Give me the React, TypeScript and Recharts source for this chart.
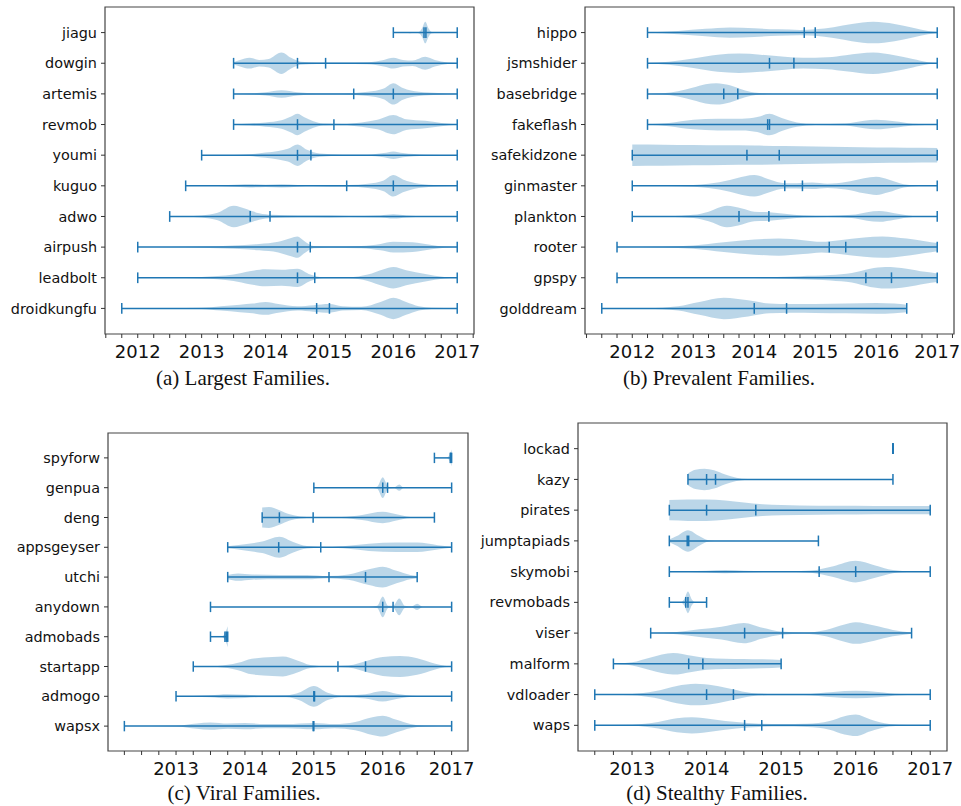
import { ComposedChart, Area, XAxis, YAxis, ReferenceLine, ReferenceArea } from 'recharts';

// [year, relative density] pairs, density 1 = widest point of that violin
type Profile = [number, number][];

const BLUE = '#1f77b4';
const HALF_WIDTH = 0.35; // violin half width in row units
const CAP = 0.175; // half height of the cap / mean / median ticks

// (a) Largest families
const largestNames = ['jiagu', 'dowgin', 'artemis', 'revmob', 'youmi', 'kuguo', 'adwo', 'airpush', 'leadbolt', 'droidkungfu'];
const largestMin = [2016.0, 2013.5, 2013.5, 2013.5, 2013.0, 2012.75, 2012.5, 2012.0, 2012.0, 2011.75];
const largestMax = [2017, 2017, 2017, 2017, 2017, 2017, 2017, 2017, 2017, 2017];
const largestMean = [2016.51, 2014.94, 2015.38, 2015.07, 2014.71, 2015.27, 2014.07, 2014.7, 2014.77, 2014.8];
const largestMedian = [2016.48, 2014.5, 2016.0, 2014.5, 2014.5, 2016.0, 2013.76, 2014.5, 2014.5, 2015.0];
const largestProfiles: Profile[] = [
  [[2016.0, 0], [2016.2, 0.02], [2016.26, 0.06], [2016.32, 0.02], [2016.4, 0.05], [2016.45, 0.4], [2016.5, 1.0], [2016.55, 0.4], [2016.6, 0.05], [2016.8, 0.0], [2017.0, 0]],
  [[2013.5, 0.1], [2013.6, 0.3], [2013.75, 0.5], [2013.9, 0.3], [2014.05, 0.4], [2014.25, 1.0], [2014.4, 0.5], [2014.55, 0.15], [2014.8, 0.08], [2015.2, 0.06], [2015.6, 0.1], [2015.85, 0.3], [2016.0, 0.5], [2016.15, 0.3], [2016.3, 0.25], [2016.5, 0.6], [2016.65, 0.3], [2016.85, 0.08], [2017.0, 0.03]],
  [[2013.5, 0.02], [2013.8, 0.05], [2014.0, 0.15], [2014.25, 0.35], [2014.5, 0.15], [2014.8, 0.05], [2015.2, 0.05], [2015.6, 0.2], [2015.85, 0.5], [2016.0, 1.0], [2016.15, 0.55], [2016.4, 0.2], [2016.7, 0.08], [2017.0, 0.02]],
  [[2013.5, 0.02], [2013.75, 0.1], [2014.0, 0.2], [2014.25, 0.4], [2014.4, 0.75], [2014.5, 1.0], [2014.6, 0.7], [2014.75, 0.3], [2014.9, 0.1], [2015.2, 0.06], [2015.5, 0.2], [2015.75, 0.45], [2016.0, 0.9], [2016.2, 0.5], [2016.5, 0.35], [2016.75, 0.15], [2017.0, 0.03]],
  [[2013.0, 0], [2013.5, 0.02], [2013.75, 0.08], [2014.0, 0.25], [2014.2, 0.4], [2014.35, 0.6], [2014.5, 1.0], [2014.65, 0.5], [2014.85, 0.15], [2015.2, 0.05], [2015.6, 0.05], [2015.85, 0.2], [2016.0, 0.35], [2016.15, 0.2], [2016.5, 0.05], [2017.0, 0.01]],
  [[2012.75, 0], [2013.25, 0.02], [2013.6, 0.12], [2013.75, 0.15], [2014.0, 0.1], [2014.25, 0.15], [2014.5, 0.08], [2014.75, 0.05], [2015.0, 0.08], [2015.3, 0.08], [2015.6, 0.2], [2015.85, 0.5], [2016.0, 1.0], [2016.15, 0.6], [2016.4, 0.2], [2016.7, 0.06], [2017.0, 0.02]],
  [[2012.5, 0.02], [2012.75, 0.03], [2013.0, 0.1], [2013.25, 0.35], [2013.5, 1.0], [2013.7, 0.7], [2013.9, 0.3], [2014.1, 0.15], [2014.5, 0.08], [2015.0, 0.1], [2015.3, 0.05], [2015.8, 0.1], [2016.0, 0.2], [2016.2, 0.1], [2016.5, 0.03], [2017.0, 0.01]],
  [[2012.0, 0], [2012.5, 0.02], [2013.0, 0.05], [2013.5, 0.15], [2013.9, 0.3], [2014.2, 0.5], [2014.4, 0.85], [2014.5, 1.0], [2014.6, 0.6], [2014.75, 0.1], [2015.0, 0.05], [2015.5, 0.1], [2015.8, 0.3], [2016.0, 0.5], [2016.3, 0.45], [2016.6, 0.2], [2016.8, 0.05], [2017.0, 0.01]],
  [[2012.0, 0], [2012.75, 0.03], [2013.0, 0.08], [2013.5, 0.3], [2013.75, 0.6], [2014.0, 0.8], [2014.25, 0.75], [2014.5, 0.85], [2014.7, 0.3], [2014.9, 0.05], [2015.3, 0.05], [2015.6, 0.3], [2015.85, 0.8], [2016.0, 1.0], [2016.2, 0.7], [2016.5, 0.35], [2016.8, 0.08], [2017.0, 0.01]],
  [[2011.75, 0], [2012.5, 0.01], [2013.0, 0.05], [2013.3, 0.2], [2013.6, 0.35], [2013.8, 0.45], [2014.0, 0.6], [2014.2, 0.4], [2014.5, 0.2], [2014.75, 0.3], [2015.0, 0.4], [2015.2, 0.2], [2015.5, 0.15], [2015.8, 0.6], [2016.0, 1.0], [2016.2, 0.6], [2016.4, 0.2], [2016.6, 0.05], [2017.0, 0.01]],
];

// (b) Prevalent families
const prevalentNames = ['hippo', 'jsmshider', 'basebridge', 'fakeflash', 'safekidzone', 'ginmaster', 'plankton', 'rooter', 'gpspy', 'golddream'];
const prevalentMin = [2012.25, 2012.25, 2012.25, 2012.25, 2012.0, 2012.0, 2012.0, 2011.75, 2011.75, 2011.5];
const prevalentMax = [2017, 2017, 2017, 2017, 2017, 2017, 2017, 2017, 2017, 2016.5];
const prevalentMean = [2015.0, 2014.65, 2013.73, 2014.25, 2014.41, 2014.79, 2014.24, 2015.5, 2016.25, 2014.53];
const prevalentMedian = [2014.82, 2014.25, 2013.5, 2014.22, 2013.88, 2014.5, 2013.75, 2015.23, 2015.83, 2014.0];
const prevalentProfiles: Profile[] = [
  [[2012.25, 0.02], [2012.75, 0.15], [2013.2, 0.35], [2013.6, 0.48], [2014.0, 0.4], [2014.4, 0.3], [2014.75, 0.25], [2015.0, 0.3], [2015.3, 0.5], [2015.6, 0.8], [2015.95, 1.0], [2016.3, 0.8], [2016.6, 0.45], [2016.85, 0.15], [2017.0, 0.05]],
  [[2012.25, 0.02], [2012.6, 0.15], [2013.0, 0.45], [2013.4, 0.8], [2013.75, 0.9], [2014.1, 0.8], [2014.5, 0.6], [2014.8, 0.5], [2015.2, 0.55], [2015.5, 0.75], [2015.95, 1.0], [2016.3, 0.75], [2016.6, 0.4], [2016.85, 0.1], [2017.0, 0.02]],
  [[2012.25, 0], [2012.5, 0.05], [2012.75, 0.25], [2013.0, 0.6], [2013.2, 0.9], [2013.38, 1.0], [2013.6, 0.8], [2013.8, 0.4], [2014.0, 0.12], [2014.3, 0.02], [2015.0, 0], [2017.0, 0]],
  [[2012.25, 0.02], [2012.6, 0.15], [2013.0, 0.45], [2013.4, 0.55], [2013.8, 0.55], [2014.05, 0.7], [2014.25, 1.0], [2014.45, 0.6], [2014.7, 0.2], [2015.0, 0.05], [2015.5, 0.1], [2015.8, 0.35], [2016.0, 0.45], [2016.3, 0.3], [2016.6, 0.08], [2017.0, 0.01]],
  [[2012.0, 1.0], [2012.5, 0.98], [2013.0, 0.95], [2013.5, 0.92], [2014.0, 0.9], [2014.5, 0.85], [2015.0, 0.8], [2015.5, 0.76], [2016.0, 0.72], [2016.5, 0.7], [2017.0, 0.68]],
  [[2012.0, 0], [2012.75, 0.03], [2013.25, 0.2], [2013.6, 0.55], [2013.85, 0.9], [2014.0, 1.0], [2014.25, 0.6], [2014.5, 0.25], [2014.7, 0.25], [2014.95, 0.3], [2015.2, 0.2], [2015.5, 0.35], [2015.8, 0.7], [2016.0, 0.85], [2016.2, 0.6], [2016.45, 0.15], [2016.7, 0.02], [2017.0, 0]],
  [[2012.0, 0], [2012.6, 0.03], [2013.0, 0.15], [2013.25, 0.45], [2013.55, 1.0], [2013.8, 0.75], [2014.0, 0.45], [2014.25, 0.4], [2014.5, 0.25], [2014.8, 0.1], [2015.2, 0.05], [2015.6, 0.15], [2015.85, 0.4], [2016.05, 0.5], [2016.3, 0.3], [2016.6, 0.05], [2017.0, 0]],
  [[2011.75, 0], [2012.5, 0.03], [2013.0, 0.15], [2013.5, 0.45], [2014.0, 0.7], [2014.4, 0.8], [2014.8, 0.65], [2015.1, 0.5], [2015.4, 0.65], [2015.8, 0.9], [2016.1, 1.0], [2016.5, 0.8], [2016.8, 0.55], [2017.0, 0.38]],
  [[2011.75, 0], [2013.5, 0.01], [2014.25, 0.05], [2014.75, 0.15], [2015.25, 0.25], [2015.6, 0.45], [2015.9, 0.85], [2016.15, 1.0], [2016.5, 0.85], [2016.8, 0.55], [2017.0, 0.4]],
  [[2011.5, 0], [2012.25, 0.02], [2012.75, 0.2], [2013.1, 0.6], [2013.5, 1.0], [2013.9, 0.75], [2014.25, 0.45], [2014.6, 0.4], [2015.0, 0.42], [2015.5, 0.45], [2016.0, 0.5], [2016.3, 0.45], [2016.5, 0.35]],
];

// (c) Viral families
const viralNames = ['spyforw', 'genpua', 'deng', 'appsgeyser', 'utchi', 'anydown', 'admobads', 'startapp', 'admogo', 'wapsx'];
const viralMin = [2016.75, 2015.0, 2014.25, 2013.75, 2013.75, 2013.5, 2013.5, 2013.25, 2013.0, 2012.25];
const viralMax = [2017, 2017, 2016.75, 2017, 2016.5, 2017, 2013.75, 2017, 2017, 2017];
const viralMean = [2016.98, 2016.07, 2014.99, 2015.1, 2015.22, 2016.15, 2013.71, 2015.35, 2015.01, 2015.0];
const viralMedian = [2016.99, 2016.0, 2014.5, 2014.49, 2015.75, 2016.0, 2013.73, 2015.75, 2015.0, 2014.99];
const viralProfiles: Profile[] = [
  [[2016.75, 0], [2016.93, 0.02], [2016.97, 0.3], [2017.0, 0.8]],
  [[2015.0, 0], [2015.8, 0], [2015.92, 0.1], [2016.0, 1.0], [2016.08, 0.1], [2016.17, 0.05], [2016.24, 0.3], [2016.3, 0.03], [2016.5, 0.04], [2016.6, 0], [2017.0, 0]],
  [[2014.25, 0.95], [2014.35, 1.0], [2014.5, 0.7], [2014.65, 0.3], [2014.8, 0.1], [2015.0, 0.03], [2015.4, 0.05], [2015.7, 0.25], [2016.0, 0.55], [2016.2, 0.3], [2016.4, 0.05], [2016.75, 0]],
  [[2013.75, 0.1], [2014.0, 0.3], [2014.25, 0.55], [2014.5, 1.0], [2014.7, 0.5], [2014.9, 0.12], [2015.2, 0.03], [2015.5, 0.15], [2015.8, 0.35], [2016.2, 0.45], [2016.5, 0.45], [2016.8, 0.2], [2017.0, 0.05]],
  [[2013.75, 0.2], [2013.9, 0.35], [2014.1, 0.25], [2014.5, 0.2], [2014.9, 0.2], [2015.2, 0.1], [2015.5, 0.25], [2015.8, 0.75], [2016.0, 1.0], [2016.2, 0.6], [2016.4, 0.2], [2016.5, 0.1]],
  [[2013.5, 0], [2015.8, 0], [2015.92, 0.1], [2016.0, 1.0], [2016.08, 0.1], [2016.15, 0.1], [2016.24, 0.8], [2016.32, 0.1], [2016.42, 0.05], [2016.5, 0.3], [2016.58, 0.02], [2017.0, 0]],
  [[2013.5, 0], [2013.65, 0], [2013.7, 0.2], [2013.75, 1.0]],
  [[2013.25, 0], [2013.6, 0.05], [2013.9, 0.35], [2014.1, 0.75], [2014.4, 0.9], [2014.55, 0.95], [2014.75, 0.6], [2014.95, 0.15], [2015.2, 0.03], [2015.5, 0.1], [2015.8, 0.6], [2016.0, 0.9], [2016.25, 1.0], [2016.5, 0.8], [2016.75, 0.3], [2016.9, 0.08], [2017.0, 0.02]],
  [[2013.0, 0], [2013.5, 0.1], [2013.75, 0.2], [2014.0, 0.15], [2014.25, 0.08], [2014.6, 0.1], [2014.8, 0.4], [2015.0, 1.0], [2015.2, 0.35], [2015.4, 0.08], [2015.75, 0.2], [2016.0, 0.5], [2016.2, 0.25], [2016.5, 0.03], [2017.0, 0]],
  [[2012.25, 0], [2013.0, 0.03], [2013.3, 0.25], [2013.5, 0.35], [2013.75, 0.25], [2014.0, 0.3], [2014.3, 0.2], [2014.6, 0.2], [2015.0, 0.3], [2015.3, 0.2], [2015.6, 0.4], [2015.85, 0.85], [2016.0, 1.0], [2016.2, 0.6], [2016.4, 0.2], [2016.6, 0.03], [2017.0, 0]],
];

// (d) Stealthy families
const stealthyNames = ['lockad', 'kazy', 'pirates', 'jumptapiads', 'skymobi', 'revmobads', 'viser', 'malform', 'vdloader', 'waps'];
const stealthyMin = [2016.5, 2013.75, 2013.5, 2013.5, 2013.5, 2013.5, 2013.25, 2012.75, 2012.5, 2012.5];
const stealthyMax = [2016.5, 2016.5, 2017, 2015.5, 2017, 2014.0, 2016.75, 2015.0, 2017, 2017];
const stealthyMean = [2016.5, 2014.12, 2014.66, 2013.76, 2015.51, 2013.75, 2015.02, 2013.95, 2014.36, 2014.74];
const stealthyMedian = [2016.5, 2014.0, 2014.0, 2013.74, 2016.0, 2013.72, 2014.51, 2013.76, 2014.0, 2014.51];
const stealthyProfiles: Profile[] = [
  [],
  [[2013.75, 0.55], [2013.85, 0.9], [2013.97, 1.0], [2014.1, 0.85], [2014.25, 0.45], [2014.4, 0.15], [2014.55, 0.03], [2015.0, 0], [2016.5, 0]],
  [[2013.5, 0.95], [2013.75, 1.0], [2014.0, 1.0], [2014.25, 0.9], [2014.5, 0.7], [2014.75, 0.55], [2015.0, 0.48], [2015.5, 0.42], [2016.0, 0.4], [2016.5, 0.38], [2017.0, 0.38]],
  [[2013.5, 0.12], [2013.6, 0.45], [2013.75, 1.0], [2013.9, 0.45], [2014.0, 0.1], [2014.1, 0.01], [2014.5, 0], [2015.5, 0]],
  [[2013.5, 0], [2014.0, 0.08], [2014.25, 0.15], [2014.5, 0.08], [2015.0, 0.02], [2015.4, 0.1], [2015.7, 0.5], [2016.0, 1.0], [2016.25, 0.6], [2016.5, 0.15], [2016.75, 0.02], [2017.0, 0]],
  [[2013.5, 0], [2013.65, 0.02], [2013.7, 0.3], [2013.75, 1.0], [2013.8, 0.3], [2013.85, 0.02], [2014.0, 0]],
  [[2013.25, 0], [2013.6, 0.1], [2013.9, 0.35], [2014.2, 0.6], [2014.5, 0.95], [2014.75, 0.5], [2015.0, 0.15], [2015.3, 0.05], [2015.6, 0.3], [2015.85, 0.8], [2016.0, 1.0], [2016.25, 0.7], [2016.5, 0.3], [2016.75, 0.05]],
  [[2012.75, 0.02], [2013.0, 0.15], [2013.25, 0.6], [2013.55, 1.0], [2013.8, 0.75], [2014.0, 0.55], [2014.25, 0.48], [2014.5, 0.45], [2014.75, 0.42], [2015.0, 0.35]],
  [[2012.5, 0], [2013.0, 0.05], [2013.3, 0.3], [2013.6, 0.8], [2013.85, 1.0], [2014.1, 0.85], [2014.35, 0.5], [2014.6, 0.15], [2014.9, 0.05], [2015.3, 0.05], [2015.7, 0.25], [2016.0, 0.35], [2016.3, 0.25], [2016.6, 0.05], [2017.0, 0]],
  [[2012.5, 0], [2013.0, 0.05], [2013.35, 0.3], [2013.6, 0.65], [2013.8, 0.75], [2014.1, 0.55], [2014.4, 0.3], [2014.7, 0.15], [2015.0, 0.12], [2015.35, 0.15], [2015.65, 0.4], [2015.85, 0.85], [2016.0, 1.0], [2016.2, 0.55], [2016.45, 0.12], [2016.7, 0.02], [2017.0, 0]],
];

const captions = [
  { text: '(a) Largest Families.', x: 243, y: 384.5 },
  { text: '(b) Prevalent Families.', x: 719, y: 384.5 },
  { text: '(c) Viral Families.', x: 244, y: 799.5 },
  { text: '(d) Stealthy Families.', x: 717, y: 799.5 },
];

interface PanelProps {
  names: string[];
  mins: number[];
  maxs: number[];
  means: number[];
  medians: number[];
  profiles: Profile[];
  left: number;
  top: number;
  height: number;
  yAxisWidth: number;
  rightMargin: number;
}

function ViolinPanel(p: PanelProps) {
  // autoscale like matplotlib: data range plus 5% on each side
  const lo = Math.min(...p.mins);
  const hi = Math.max(...p.maxs);
  const pad = (hi - lo) * 0.05;
  const xDomain: [number, number] = [lo - pad, hi + pad];
  const xTicks: number[] = [];
  for (let t = Math.ceil(xDomain[0] * 4) / 4; t <= xDomain[1]; t += 0.25) xTicks.push(t);

  const n = p.names.length;
  const yPad = HALF_WIDTH + (n - 1 + 2 * HALF_WIDTH) * 0.05;
  const yDomain: [number, number] = [1 - yPad, n + yPad];
  const rows = p.names.map((_, i) => i + 1);

  const seg = (x1: number, y1: number, x2: number, y2: number, key: string) => (
    <ReferenceLine
      key={key}
      segment={[{ x: x1, y: y1 }, { x: x2, y: y2 }]}
      stroke={BLUE}
      strokeWidth={1.5}
      ifOverflow="visible"
    />
  );

  return (
    <div style={{ position: 'absolute', left: p.left, top: p.top }}>
      <ComposedChart
        width={480}
        height={p.height}
        margin={{ top: 7, right: p.rightMargin, bottom: 0, left: 0 }}
      >
        <XAxis
          type="number"
          dataKey="x"
          domain={xDomain}
          allowDataOverflow
          ticks={xTicks}
          interval={0}
          tickFormatter={(v: number) => (Number.isInteger(v) ? String(v) : '')}
          axisLine={false}
          tickLine={{ stroke: '#333' }}
          tickSize={4}
          tickMargin={7}
          height={36}
          tick={{ fontSize: 18, fill: '#111', fontFamily: 'DejaVu Sans' }}
        />
        <YAxis
          type="number"
          domain={yDomain}
          allowDataOverflow
          reversed
          ticks={rows}
          interval={0}
          tickFormatter={(v: number) => p.names[v - 1] ?? ''}
          axisLine={false}
          tickLine={{ stroke: '#333' }}
          tickSize={4}
          tickMargin={4}
          width={p.yAxisWidth}
          tick={{ fontSize: 14.4, fill: '#111', fontFamily: 'DejaVu Sans' }}
        />
        <ReferenceArea
          x1={xDomain[0]}
          x2={xDomain[1]}
          y1={yDomain[0]}
          y2={yDomain[1]}
          fill="none"
          stroke="#444"
          strokeWidth={1.2}
          ifOverflow="visible"
        />
        {p.profiles.map((prof, i) =>
          prof.length ? (
            <Area
              key={`v${i}`}
              data={prof.map(([x, w]) => ({ x, band: [i + 1 - w * HALF_WIDTH, i + 1 + w * HALF_WIDTH] }))}
              dataKey="band"
              type="monotone"
              stroke="none"
              fill={BLUE}
              fillOpacity={0.3}
              dot={false}
              activeDot={false}
              isAnimationActive={false}
            />
          ) : null
        )}
        {rows.flatMap((r, i) => [
          seg(p.mins[i], r, p.maxs[i], r, `w${i}`),
          seg(p.mins[i], r - CAP, p.mins[i], r + CAP, `lo${i}`),
          seg(p.maxs[i], r - CAP, p.maxs[i], r + CAP, `hi${i}`),
          seg(p.means[i], r - CAP, p.means[i], r + CAP, `mn${i}`),
          seg(p.medians[i], r - CAP, p.medians[i], r + CAP, `md${i}`),
        ])}
      </ComposedChart>
    </div>
  );
}

export default function App() {
  return (
    <div style={{ position: 'absolute', left: 0, top: 0, width: 961, height: 806, background: '#fff' }}>
      <ViolinPanel
        names={largestNames}
        mins={largestMin}
        maxs={largestMax}
        means={largestMean}
        medians={largestMedian}
        profiles={largestProfiles}
        left={0}
        top={0}
        height={370}
        yAxisWidth={105}
        rightMargin={6}
      />
      <ViolinPanel
        names={prevalentNames}
        mins={prevalentMin}
        maxs={prevalentMax}
        means={prevalentMean}
        medians={prevalentMedian}
        profiles={prevalentProfiles}
        left={480}
        top={0}
        height={370}
        yAxisWidth={105}
        rightMargin={6}
      />
      <ViolinPanel
        names={viralNames}
        mins={viralMin}
        maxs={viralMax}
        means={viralMean}
        medians={viralMedian}
        profiles={viralProfiles}
        left={0}
        top={426}
        height={361}
        yAxisWidth={108}
        rightMargin={12}
      />
      <ViolinPanel
        names={stealthyNames}
        mins={stealthyMin}
        maxs={stealthyMax}
        means={stealthyMean}
        medians={stealthyMedian}
        profiles={stealthyProfiles}
        left={480}
        top={416}
        height={371}
        yAxisWidth={98}
        rightMargin={13}
      />
      <svg
        width={961}
        height={806}
        style={{ position: 'absolute', left: 0, top: 0, pointerEvents: 'none' }}
      >
        {captions.map((c) => (
          <text
            key={c.text}
            x={c.x}
            y={c.y}
            textAnchor="middle"
            fontFamily="'Liberation Serif', serif"
            fontSize={21}
            fill="#111"
          >
            {c.text}
          </text>
        ))}
      </svg>
    </div>
  );
}
